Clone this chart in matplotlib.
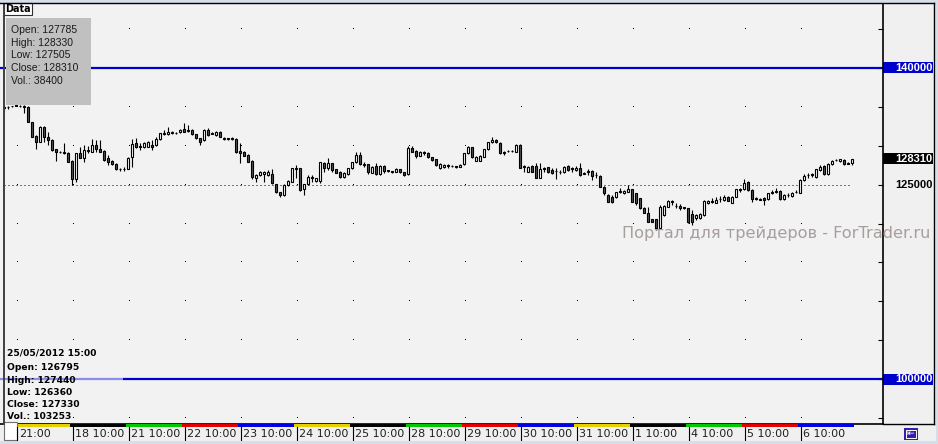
import matplotlib
matplotlib.use('Agg')
import matplotlib.pyplot as plt
import matplotlib.transforms as mtransforms
from matplotlib.patches import Rectangle
import numpy as np

# ---------------------------------------------------------------------------
# Data: hourly candles (RTS futures)
# ---------------------------------------------------------------------------
opens = [
    135030, 135030, 135110, 135200, 135160, 135070, 135030, 133010, 131260, 130530,
    132460, 131170, 130740, 129540, 129240, 129200, 129110, 128040, 125680, 129110,
    128470, 129330, 129240, 130100, 129580, 129330, 128380, 128040, 127650, 127050,
    127010, 127010, 128600, 130310, 129930, 129800, 129880, 130100, 130100, 130830,
    131510, 131510, 131600, 131680, 131730, 132110, 131980, 132030, 131470, 130960,
    130740, 132030, 131640, 131380, 131810, 131000, 130960, 130960, 130870, 129330,
    129160, 128810, 128080, 125810, 126240, 126370, 126240, 126330, 125040, 124010,
    123670, 124950, 125380, 127140, 127100, 124400, 125040, 125940, 125470, 125470,
    127740, 127180, 127740, 126970, 126670, 125940, 126370, 127100, 127870, 128810,
    127650, 127610, 126540, 127400, 126330, 127400, 126840, 126710, 126670, 126970,
    126580, 126330, 129670, 129330, 128730, 129200, 129070, 128510, 128250, 127100,
    127230, 127490, 127440, 127360, 127310, 127610, 129030, 129800, 128080, 128080,
    128600, 129540, 130440, 130740, 130400, 129200, 129370, 129330, 129240, 130100,
    127360, 126670, 127440, 127440, 125900, 127140, 127230, 126880, 126800, 126670,
    126580, 127400, 127100, 126880, 127100, 126500, 126580, 126750, 126280, 126110,
    124740, 123670, 123450, 123370, 124140, 123880, 124100, 124400, 123880, 123240,
    121950, 121400, 120540, 120540, 119380, 121090, 122170, 122850, 122300, 122250,
    122080, 121950, 121180, 120670, 120670, 121090, 122600, 122850, 122680, 123200,
    123020, 123370, 122680, 123450, 124440, 124400, 125380, 124310, 123280, 123150,
    123320, 123110, 124050, 124140, 124180, 123110, 123710, 123540, 124100, 123970,
    125600, 126280, 126330, 125940, 126880, 127400, 126330, 127650, 128210, 128040,
    128170, 127780, 127785,
]
highs = [
    135240, 135160, 135160, 135280, 135240, 135200, 135110, 133100, 131380, 132540,
    132540, 131730, 130830, 129630, 129330, 130310, 129200, 128130, 129110, 129880,
    130100, 129970, 130830, 130740, 130740, 129460, 128810, 128130, 127740, 127180,
    127310, 128600, 130830, 130960, 130310, 130530, 130570, 130740, 131170, 131680,
    132030, 132370, 131900, 131770, 132110, 132880, 132670, 132110, 131560, 131040,
    132110, 132240, 131730, 131900, 131900, 131080, 131040, 131170, 130960, 130310,
    129330, 128900, 128170, 126330, 126750, 126750, 126880, 127010, 125120, 124100,
    125040, 125600, 127180, 127530, 127180, 125120, 126240, 126240, 125900, 127950,
    127950, 128380, 127830, 127050, 126750, 126630, 127180, 127950, 129160, 129160,
    127950, 127700, 127400, 127740, 127480, 127530, 126930, 126800, 127100, 127050,
    126670, 129970, 129970, 129410, 129330, 129370, 129160, 128600, 128340, 127740,
    127610, 127650, 127530, 127440, 127610, 129110, 129970, 129880, 128680, 128770,
    129630, 130530, 131080, 130870, 130480, 129280, 129460, 129460, 130180, 130180,
    127530, 127400, 127530, 127830, 127830, 127310, 127310, 127100, 127100, 126880,
    127400, 127530, 127310, 127400, 127830, 126580, 126970, 126840, 126670, 126200,
    124820, 123750, 123670, 124100, 124530, 124310, 124950, 124480, 123970, 123320,
    122170, 122170, 120620, 120620, 122380, 122340, 122980, 123020, 122600, 122470,
    122170, 122040, 121740, 121180, 121310, 122980, 123020, 123240, 123450, 123530,
    123670, 123530, 123530, 124480, 124530, 125680, 125470, 124400, 123370, 123240,
    123410, 123970, 124310, 124530, 124270, 123750, 123880, 124050, 124310, 125680,
    126330, 126540, 126450, 127050, 127530, 127480, 127830, 128170, 128300, 128340,
    128250, 127950, 128330,
]
lows = [
    134510, 134690, 135030, 135070, 134940, 134170, 133010, 131080, 129540, 130440,
    130530, 130100, 129370, 128080, 129030, 128980, 127870, 124950, 125380, 128380,
    127950, 129030, 129160, 129240, 129160, 128080, 127530, 127530, 126880, 126750,
    126800, 126970, 127310, 129710, 129460, 129710, 129800, 129460, 130010, 130740,
    131430, 131430, 131510, 131560, 131640, 131730, 131810, 131380, 130870, 130100,
    130660, 131290, 131470, 131290, 131080, 130740, 130740, 130740, 129070, 127740,
    128640, 127870, 125770, 125380, 126150, 125380, 126150, 125080, 123920, 123370,
    123580, 124870, 125300, 125810, 124220, 123670, 124950, 125380, 125380, 125170,
    126670, 126880, 126670, 126450, 125850, 125850, 126240, 127010, 127780, 127530,
    127310, 126330, 126450, 126240, 126240, 126540, 126670, 126450, 126580, 126500,
    126150, 126240, 129160, 128380, 128640, 128810, 128430, 128080, 127440, 127010,
    127140, 127100, 127270, 127180, 127230, 127530, 128940, 128430, 128000, 128000,
    128510, 129460, 130360, 130360, 128940, 128810, 129200, 129200, 129160, 127100,
    126670, 126580, 126580, 125810, 125810, 126670, 126500, 126370, 125680, 126330,
    126500, 126800, 126670, 126800, 126150, 126330, 126240, 125600, 125810, 124650,
    123670, 122720, 122600, 123280, 123880, 123800, 124010, 122720, 122380, 121870,
    121310, 120150, 120150, 119170, 119290, 121010, 122080, 122380, 121950, 121740,
    121870, 120020, 119810, 120450, 120580, 121010, 122510, 122600, 122600, 122810,
    122940, 122850, 122600, 123370, 124100, 124310, 124220, 122810, 123020, 122980,
    122380, 123020, 123800, 123880, 123020, 123020, 123450, 123450, 123920, 123880,
    125510, 125810, 126030, 125850, 126800, 126240, 126240, 127570, 128040, 127950,
    127570, 127610, 127505,
]
closes = [
    134810, 134940, 135070, 135160, 135070, 135030, 133010, 131170, 130530, 132460,
    131170, 130740, 129460, 129160, 129200, 129070, 127950, 125730, 129030, 128470,
    129460, 129460, 130100, 129580, 129240, 128170, 127950, 127610, 126970, 126970,
    127050, 128470, 130180, 129800, 129840, 130400, 130440, 129800, 130830, 131600,
    131680, 131810, 131810, 131640, 132030, 131810, 131900, 131470, 130960, 130530,
    132030, 131380, 131560, 131810, 131170, 130910, 130910, 130910, 129160, 129110,
    128730, 127950, 125940, 126240, 126670, 126670, 126670, 125170, 124010, 123670,
    124950, 125510, 127100, 127050, 124310, 125040, 125940, 125850, 125810, 127870,
    127180, 127740, 126880, 126540, 125940, 126540, 127100, 127870, 128810, 127610,
    127570, 126670, 127310, 126330, 127400, 126800, 126750, 126630, 127010, 126580,
    126240, 129670, 129240, 128730, 129240, 129110, 128510, 128170, 127530, 127650,
    127530, 127400, 127360, 127270, 127530, 129030, 129800, 128510, 128600, 128680,
    129540, 130440, 130740, 130440, 129030, 129110, 129280, 129370, 130100, 127180,
    127270, 127310, 126670, 125900, 126970, 127050, 126580, 126450, 126710, 126580,
    127310, 126880, 127010, 127180, 126240, 126410, 126800, 126150, 126200, 124740,
    123970, 122810, 122810, 124010, 124050, 124220, 124400, 122810, 122680, 121950,
    121400, 120240, 120240, 119380, 122170, 122250, 122900, 122770, 122210, 121950,
    121950, 120240, 120150, 121090, 121220, 122900, 122940, 122770, 123020, 123110,
    123370, 122940, 123450, 124400, 124350, 125250, 124310, 123110, 123200, 123070,
    123020, 123880, 123970, 124050, 123110, 123670, 123620, 123970, 124010, 125600,
    126110, 126200, 126240, 126970, 127310, 126330, 127650, 128080, 128130, 128250,
    127650, 127700, 128310,
]

# first bar of each day section, its label and weekday colour
day_starts = [4, 18, 32, 46, 60, 74, 88, 102, 116, 130, 144, 158, 172, 186, 200]
day_labels = ['21:00', '18 10:00', '21 10:00', '22 10:00', '23 10:00', '24 10:00',
              '25 10:00', '28 10:00', '29 10:00', '30 10:00', '31 10:00', '1 10:00',
              '4 10:00', '5 10:00', '6 10:00']
day_colors = ['#E6D000', '#000000', '#00C800', '#E00000', '#0000E0'] * 3

levels = [145000, 140000, 135000, 130000, 125000, 120000, 115000, 110000, 105000, 100000, 95000]

last_bar = ['Open: 127785', 'High: 128330', 'Low: 127505', 'Close: 128310', 'Vol.: 38400']
cursor_bar = ['25/05/2012 15:00', 'Open: 126795', 'High: 127440', 'Low: 126360',
              'Close: 127330', 'Vol.: 103253']

opens, highs, lows, closes = map(np.array, (opens, highs, lows, closes))
xs = np.arange(1, len(closes) + 1)

# ---------------------------------------------------------------------------
W, H = 938, 444
fig = plt.figure(figsize=(W / 100, H / 100), dpi=100)
fig.patch.set_facecolor('#F0F0F0')

# price axes: 4 px per bar, 140000 at y=68 px, 100000 at y=379 px
ppu = 311 / 40000.0
ax = fig.add_axes([0, 1 - 424 / H, 883 / W, 420 / H])
ax.set_facecolor('#F2F2F2')
ax.set_xlim(0, 883 / 4)
ax.set_ylim(100000 - (424 - 379) / ppu, 140000 + (68 - 4) / ppu)
for s in ('left', 'top'):
    ax.spines[s].set_visible(False)
ax.spines['right'].set_linewidth(1.2)
ax.spines['bottom'].set_linewidth(1.2)
ax.set_xticks([])
ax.set_yticks(levels)
ax.tick_params(axis='y', left=False, right=True, labelleft=False, labelright=False,
               direction='in', length=3.6, width=0.8, color='black')

# dotted grid
gx, gy = np.meshgrid(day_starts, levels)
ax.plot(gx.ravel() + 0.2, gy.ravel(), ',', color='black')

# 125000 dotted level and blue levels
ax.hlines(125000, xs[0], xs[-1], colors='black', linewidth=0.72, linestyles=(0, (1, 3)))
ax.axhline(140000, color='#0000CC', linewidth=1.6)
ax.hlines(100000, 0, 123 / 4, colors='#8C8CEC', linewidth=1.6)
ax.hlines(100000, 123 / 4, 883 / 4, colors='#0000CC', linewidth=1.6)

# candles
ax.vlines(xs, lows, highs, colors='black', linewidth=0.8)
body_low = np.minimum(opens, closes)
body_h = np.maximum(np.abs(closes - opens), 30)
fills = np.where(closes >= opens, 'white', '#505050')
ax.bar(xs, body_h, bottom=body_low, width=0.6, color=fills, edgecolor='black',
       linewidth=0.8, zorder=3)

# right-hand price labels
tr = mtransforms.blended_transform_factory(ax.transAxes, ax.transData)
half = 5.5 / ppu
box_w = 50 / 883
tags = [(140000, '#0000CC', 'white'), (closes[-1], 'black', 'white'),
        (125000, None, 'black'), (100000, '#0000CC', 'white')]
for val, bg, fg in tags:
    if bg is not None:
        ax.add_patch(Rectangle((1.0, val - half), box_w, 2 * half, transform=tr,
                               facecolor=bg, edgecolor='none', clip_on=False))
    ax.text(1.0 + 49.5 / 883, val, f'{val:d}', transform=tr, ha='right', va='center',
            color=fg, fontsize=8, fontweight='bold', family='Liberation Sans',
            clip_on=False)

# ---------------------------------------------------------------------------
# overlay in pixel coordinates for the terminal decorations
ui = fig.add_axes([0, 0, 1, 1], zorder=5)
ui.set_xlim(0, W)
ui.set_ylim(H, 0)
ui.axis('off')
ui.patch.set_alpha(0)

# frame lines
ui.add_patch(Rectangle((0, 0), W, 3, facecolor='#D6DEE8', edgecolor='none'))
ui.plot([3.5, 3.5], [4, 424], color='#404040', linewidth=1.4)
ui.plot([0, 934], [3.5, 3.5], color='black', linewidth=1.0)
ui.plot([934, 934], [3.5, 424], color='black', linewidth=1.0)
ui.plot([883, 934], [424, 424], color='black', linewidth=1.0)
ui.add_patch(Rectangle((935.5, 0), 3, H, facecolor='#D6DEE8', edgecolor='none'))
ui.add_patch(Rectangle((0, 441), W, 3, facecolor='#D6DEE8', edgecolor='none'))

# time axis: weekday strips, ticks, labels
tx = mtransforms.blended_transform_factory(ax.transData, ui.transData)
ends = day_starts[1:] + [xs[-1] + 1]
for i, (d0, d1) in enumerate(zip(day_starts, ends)):
    ui.add_patch(Rectangle((d0 - 0.5, 424.4), d1 - d0, 2.6, transform=tx,
                           facecolor=day_colors[i], edgecolor='none'))
    ui.plot([d0 + 0.2, d0 + 0.2], [427, 440], transform=tx, color='black', linewidth=0.8)
    ui.text(d0 + 0.7, 434, day_labels[i], transform=tx, ha='left', va='center',
            fontsize=8, color='#202020', family='DejaVu Sans')
ui.add_patch(Rectangle((3.5, 422), 13.5, 17.5, facecolor='white', edgecolor='#707070',
                       linewidth=0.8))

# navigation button bottom right
ui.add_patch(Rectangle((903.5, 427.5), 14.5, 12, facecolor='#3A1CA8', edgecolor='none'))
ui.add_patch(Rectangle((905.5, 429.5), 10.5, 8, facecolor='none', edgecolor='white',
                       linewidth=0.7))
ui.text(910.7, 433.4, '\u21e4', ha='center', va='center', color='white', fontsize=6.5)

# "Data" tab and last bar info box
ui.add_patch(Rectangle((3.5, 3.5), 28, 11.5, facecolor='white', edgecolor='#303030',
                       linewidth=0.8))
ui.text(5.5, 9.5, 'Data', ha='left', va='center', fontsize=7, fontweight='bold',
        color='black', family='DejaVu Sans')
ui.add_patch(Rectangle((6, 18), 84.5, 87, facecolor='#C0C0C0', edgecolor='none'))
for k, line in enumerate(last_bar):
    ui.text(11, 30 + 12.7 * k, line, ha='left', va='center', fontsize=7.5,
            color='#1A1A1A', family='Liberation Sans')

# cursor bar info bottom left
cursor_y = [352.7, 367.7, 380, 392.3, 404, 416]
for line, yy in zip(cursor_bar, cursor_y):
    ui.text(7, yy, line, ha='left', va='center', fontsize=6.6, fontweight='bold',
            color='black', family='DejaVu Sans')

# watermark
ui.text(622, 233, 'Портал для трейдеров - ForTrader.ru', ha='left', va='center',
        fontsize=11.6, color='#A89E9E', family='DejaVu Sans')

fig.savefig('out.png', dpi=100, facecolor=fig.get_facecolor())
